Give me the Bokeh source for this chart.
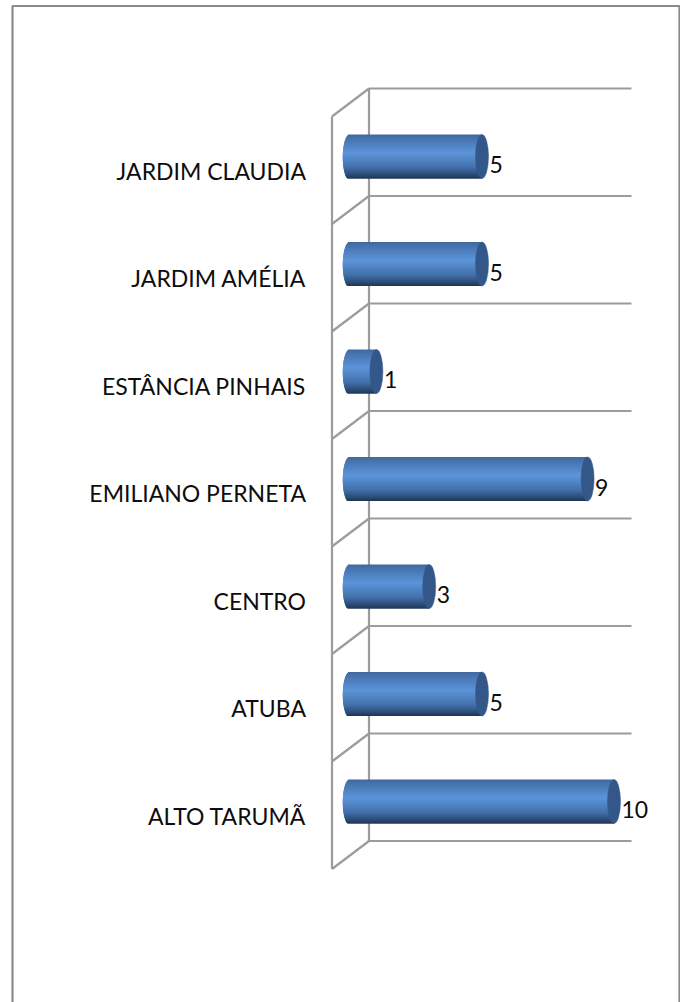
from bokeh.plotting import figure
from bokeh.embed import file_html
from bokeh.resources import INLINE
from bokeh.core.properties import value
import numpy as np

categories = ["ALTO TARUMÃ", "ATUBA", "CENTRO", "EMILIANO PERNETA",
              "ESTÂNCIA PINHAIS", "JARDIM AMÉLIA", "JARDIM CLAUDIA"]
values = [10, 5, 3, 9, 1, 5, 5]

W, H = 680, 1002
PX_PER_UNIT = 26.4
ZERO_PX = 349.5
ROW_PX = 107.5
ROW0_PX = 801.0

def xd(px):
    return (px - ZERO_PX) / PX_PER_UNIT

def yd(px):
    return (ROW0_PX - px) / ROW_PX

p = figure(width=W, height=H, output_backend="svg", toolbar_location=None,
           x_range=(xd(0), xd(W)), y_range=(yd(H), yd(0)),
           min_border=0, min_border_left=0, min_border_right=0,
           min_border_top=0, min_border_bottom=0,
           margin=0, outline_line_color=None,
           background_fill_color="white", border_fill_color="white")
p.axis.visible = False
p.grid.visible = False

GREY = "#9c9c9c"
# outer frame
p.multi_line([[xd(12), xd(12), xd(679), xd(679)]],
             [[yd(1010), yd(5.5), yd(5.5), yd(1010)]],
             line_color="#8a8a8a", line_width=2.2)

# walls: back gridlines + side diagonals
n = len(categories)
rows = yd(840.5) + np.arange(n + 1)
wall_x0, wall_x1, wall_xr = xd(331.5), xd(368.5), xd(631)
dy = 28.0 / ROW_PX
p.segment([wall_x1] * (n + 1), rows, [wall_xr] * (n + 1), rows, line_color=GREY, line_width=2.2)
p.segment([wall_x0] * (n + 1), rows - dy, [wall_x1] * (n + 1), rows, line_color=GREY, line_width=2.2)
p.segment([wall_x1, wall_x0], [rows[0], rows[0] - dy], [wall_x1, wall_x0], [rows[-1], rows[-1] - dy],
          line_color=GREY, line_width=2.2)

# cylinders: painted strip by strip, top to bottom, each strip overlapping the next
HALF_H = 22.0 / ROW_PX
A = 6.5 / PX_PER_UNIT
NS = 44
stops_t = [0.0, 0.08, 0.42, 0.75, 0.93, 1.0]
stops_c = [(64, 104, 158), (70, 114, 172), (92, 148, 218), (66, 112, 170), (42, 72, 112), (31, 52, 84)]
tt = (np.arange(NS) + 0.5) / NS
step = 2 * HALF_H / NS
ys, hs, lefts, rights, colors = [], [], [], [], []
for r, v in enumerate(values):
    for t in tt:
        c = [np.interp(t, stops_t, [s[i] for s in stops_c]) for i in range(3)]
        u = 2 * t - 1
        e = A * np.sqrt(1 - u * u)
        top = r + HALF_H - (t * 2 * HALF_H - step / 2)
        bottom = max(top - 2.5 * step, r - HALF_H)
        ys.append((top + bottom) / 2)
        hs.append(top - bottom)
        lefts.append(-e - 0.7 / PX_PER_UNIT)
        rights.append(v)
        colors.append("#%02x%02x%02x" % tuple(int(round(x)) for x in c))
p.hbar(y=ys, left=lefts, right=rights, height=hs, fill_color=colors, line_color=None)
rows_i = list(range(n))
p.ellipse(x=values, y=rows_i, width=2 * A, height=2 * HALF_H, fill_color="#34578a", line_color="#34578a",
          line_width=0.5)

# category labels
FONT = value("Lato")
p.text(x=[xd(305.5)] * n, y=[r - 14 / ROW_PX for r in rows_i], text=categories,
       text_font=FONT, text_font_size="23px", text_align="right", text_baseline="middle", text_color="#0d0d0d")
# value labels
p.text(x=[v + 7.5 / PX_PER_UNIT for v in values], y=[r - 8 / ROW_PX for r in rows_i], text=[str(v) for v in values],
       text_font=FONT, text_font_size="23px", text_align="left", text_baseline="middle", text_color="#0d0d0d")

open("out.html", "w").write(file_html(p, INLINE))
